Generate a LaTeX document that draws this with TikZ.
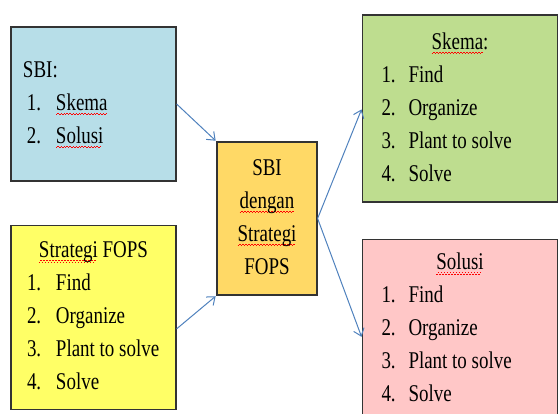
\documentclass[tikz,border=0pt]{standalone}
\usepackage{fontspec}
\setmainfont{Liberation Serif}[FakeStretch=0.79]
\usetikzlibrary{positioning,arrows.meta}

\definecolor{sbiblue}{HTML}{B7DEE8}
\definecolor{fopsyellow}{HTML}{FFFF66}
\definecolor{midgold}{HTML}{FFD966}
\definecolor{skemagreen}{HTML}{BEDD8F}
\definecolor{solusipink}{HTML}{FFC7C7}
\definecolor{linkblue}{HTML}{4F81BD}
% red spell-check wave under a word
\newsavebox{\squigbox}
\newcommand{\squig}[1]{\sbox{\squigbox}{#1}%
  \rlap{\textcolor{red}{\leaders\hbox{\rule[-4.6pt]{1.5pt}{0.7pt}\rule[-3.4pt]{1.5pt}{0.7pt}}\hskip\wd\squigbox}}%
  \usebox{\squigbox}}

\begin{document}
\begin{tikzpicture}[%
    x=1pt, y=1pt,
    >={Straight Barb[length=7pt,width=11pt]},
    block/.style={%
      rectangle,
      draw=black!80,
      line width=1.2pt,
      inner ysep=0pt,
      font=\fontsize{24}{33}\selectfont
    },
    link/.style={%
      ->,
      draw=linkblue,
      line width=1pt,
      shorten >=1pt
    }
  ]
    \useasboundingbox (0,0) rectangle (559,414);
    \clip (0,0) rectangle (559,414);

    \node[block, fill=sbiblue, minimum width=165pt, minimum height=154pt, inner xsep=12pt] (sbi) at (93.5,310)
      {\begin{tabular}{@{\hspace{4pt}}p{29pt}@{}l@{}}
         \multicolumn{2}{@{}l@{}}{\makebox[141pt][l]{SBI:}}\\
         1. & \squig{Skema}\\
         2. & \squig{Solusi}
       \end{tabular}};
    \node[block, fill=fopsyellow, minimum width=165pt, minimum height=184pt, inner xsep=16pt] (fops) [below=43pt of sbi]
      {\begin{tabular}{@{}p{29pt}@{}l@{}}
         \multicolumn{2}{@{}c@{}}{\makebox[133pt]{\squig{Strategi} FOPS}}\\
         1. & Find\\
         2. & Organize\\
         3. & Plant to solve\\
         4. & Solve
       \end{tabular}};
    \node[block, fill=midgold, minimum width=100pt, minimum height=153pt] (mid) at (267,195.5)
      {\begin{tabular}{@{}c@{}}
         SBI\\
         \squig{dengan}\\
         \squig{Strategi}\\
         FOPS
       \end{tabular}};
    \node[block, fill=skemagreen, minimum width=195pt, minimum height=187pt, inner xsep=19pt] (skema) at (460,305.5)
      {\begin{tabular}{@{}p{27pt}@{}l@{}}
         \multicolumn{2}{@{}c@{}}{\makebox[157pt]{\squig{Skema}:}}\\
         1. & Find\\
         2. & Organize\\
         3. & Plant to solve\\
         4. & Solve
       \end{tabular}};
    \node[block, fill=solusipink, minimum width=195pt, minimum height=180pt, inner xsep=19pt] (solusi) [below=36pt of skema]
      {\begin{tabular}{@{}p{27pt}@{}l@{}}
         \multicolumn{2}{@{}c@{}}{\makebox[157pt]{\squig{Solusi}}}\\
         1. & Find\\
         2. & Organize\\
         3. & Plant to solve\\
         4. & Solve
       \end{tabular}};

    \draw[link] (sbi.east)  -- (mid.north west);
    \draw[link] (fops.-8)   -- (mid.south west);
    \draw[link] (mid.east)  -- (skema.west);
    \draw[link] (mid.east)  -- (solusi.185);
\end{tikzpicture}
\end{document}
